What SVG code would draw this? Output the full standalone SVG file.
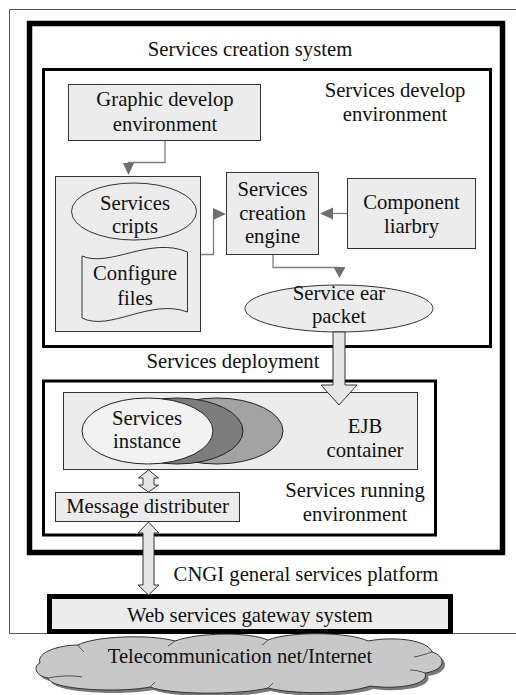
<svg xmlns="http://www.w3.org/2000/svg" width="516" height="695" viewBox="0 0 516 695" font-family="'Liberation Serif', 'Times New Roman', 'DejaVu Serif', serif">
  <style>
    text { font-family: "Liberation Serif", "Times New Roman", Times, "DejaVu Serif", serif; font-size: 20.7px; fill: #111; text-anchor: middle; }
    .box { fill: #ececec; stroke: #333; stroke-width: 1; }
    .frame { fill: none; stroke: #000; }
    .thin { fill: none; stroke: #555; stroke-width: 1; }
    .link { fill: none; stroke: #808080; stroke-width: 1.3; }
    .head { fill: #6e6e6e; stroke: none; }
    .block { fill: #e6e6e6; stroke: #333; stroke-width: 1; stroke-linejoin: miter; }
  </style>

  <rect width="516" height="695" fill="#fff"/>

  <!-- outer thin border -->
  <g id="outer-border">
    <path class="thin" d="M516 9.5 H9.5 V633.5 H516"/>
  </g>

  <!-- Services creation system -->
  <g id="creation-system">
    <rect class="frame" x="29.5" y="23.5" width="473" height="529" stroke-width="5.5"/>
    <text x="250" y="56">Services creation system</text>
  </g>

  <!-- Services develop environment -->
  <g id="develop-environment">
    <rect class="frame" x="43.5" y="69.5" width="447" height="277" stroke-width="3"/>
    <text x="395" y="97">Services develop</text>
    <text x="395" y="121">environment</text>
  </g>

  <g id="graphic-develop">
    <rect class="box" x="68.5" y="84.5" width="192" height="56"/>
    <text x="165" y="106">Graphic develop</text>
    <text x="165" y="131">environment</text>
  </g>

  <g id="scripts-container">
    <rect class="box" x="55.5" y="176.5" width="145" height="155"/>
  </g>

  <g id="services-scripts">
    <ellipse cx="134" cy="211.5" rx="62.5" ry="28.5" fill="#ececec" stroke="#333" stroke-width="1"/>
    <text x="135" y="210">Services</text>
    <text x="135" y="233">cripts</text>
  </g>

  <g id="configure-files">
    <path class="box" d="M82 256 C110 268 150 236 187.5 252 L187.5 312 C150 298 110 332 82 318 Z"/>
    <text x="135" y="280">Configure</text>
    <text x="135" y="305">files</text>
  </g>

  <g id="creation-engine">
    <rect class="box" x="226.5" y="172.5" width="92" height="82"/>
    <text x="272.5" y="196">Services</text>
    <text x="272.5" y="220">creation</text>
    <text x="272.5" y="243">engine</text>
  </g>

  <g id="component-library">
    <rect class="box" x="347.5" y="178.5" width="128" height="70"/>
    <text x="411.5" y="209">Component</text>
    <text x="411.5" y="233">liarbry</text>
  </g>

  <g id="ear-packet">
    <ellipse cx="339" cy="308.5" rx="94" ry="23.5" fill="#ececec" stroke="#333" stroke-width="1"/>
    <text x="339" y="300">Service ear</text>
    <text x="339" y="323">packet</text>
  </g>

  <text id="deployment-label" x="233" y="368">Services deployment</text>

  <!-- Services running environment -->
  <g id="running-environment">
    <rect class="frame" x="43.5" y="381" width="392" height="154" stroke-width="3"/>
    <text x="355" y="497">Services running</text>
    <text x="355" y="521">environment</text>
  </g>

  <g id="ejb-container">
    <rect class="box" x="63.5" y="392.5" width="354" height="77"/>
    <ellipse cx="217" cy="431" rx="66" ry="33" fill="#a3a3a3" stroke="#222" stroke-width="1"/>
    <ellipse cx="177" cy="431" rx="66" ry="33" fill="#7d7d7d" stroke="#222" stroke-width="1"/>
    <text x="365" y="433">EJB</text>
    <text x="365" y="457">container</text>
  </g>

  <g id="services-instance">
    <ellipse cx="147.5" cy="431" rx="65.5" ry="33" fill="#f2f2f2" stroke="#222" stroke-width="1"/>
    <text x="147" y="425">Services</text>
    <text x="147" y="448">instance</text>
  </g>

  <g id="message-distributer">
    <rect class="box" x="55.5" y="492.5" width="184" height="29"/>
    <text x="147.5" y="513">Message distributer</text>
  </g>

  <text id="platform-label" x="306" y="581">CNGI general services platform</text>

  <g id="gateway">
    <rect x="49.5" y="596.5" width="401" height="35" fill="#ececec" stroke="#000" stroke-width="5"/>
    <text x="250" y="622">Web services gateway system</text>
  </g>

  <g id="internet-cloud">
    <path transform="translate(3,3)" fill="#7a7a7a" d="M40 663 C36 652 60 645 78 645 C95 636 150 634 175 641 C200 632 250 632 268 640 C290 631 350 632 368 641 C395 636 428 640 432 652 C446 656 447 670 425 673 C430 684 400 690 370 686 C345 695 290 694 268 688 C240 695 170 695 150 687 C120 693 50 690 48 678 C35 676 33 666 40 663 Z"/>
    <path fill="#c8c8c8" stroke="#333" stroke-width="1" d="M40 663 C36 652 60 645 78 645 C95 636 150 634 175 641 C200 632 250 632 268 640 C290 631 350 632 368 641 C395 636 428 640 432 652 C446 656 447 670 425 673 C430 684 400 690 370 686 C345 695 290 694 268 688 C240 695 170 695 150 687 C120 693 50 690 48 678 C35 676 33 666 40 663 Z"/>
    <path fill="none" stroke="#333" stroke-width="0.8" d="M48 678 C58 676 72 675 82 677 M78 645 C80 648 82 650 84 652 M175 641 C172 643 170 645 168 646 M268 640 C266 642 264 644 262 645 M425 673 C420 671 414 670 410 670 M432 652 C426 654 420 656 414 657 M150 687 C152 685 154 683 155 682 M268 688 C270 686 272 684 273 683"/>
    <text x="240" y="663">Telecommunication net/Internet</text>
  </g>

  <!-- connectors -->
  <g id="connectors">
    <path class="link" d="M165 141 V162.5 H128.5 V164"/>
    <polygon class="head" points="123,163 134,163 128.5,175"/>

    <path class="link" d="M201 254.5 H213.5 V214"/>
    <polygon class="head" points="213,208 213,220 226,214"/>

    <path class="link" d="M347 213.5 H332"/>
    <polygon class="head" points="333,207.5 333,219.5 320,213.5"/>

    <path class="link" d="M273 255 V267.5 H339.5"/>
    <polygon class="head" points="333.5,267 345.5,267 339.5,278"/>

    <polygon class="block" points="333,332 345,332 345,385 357,385 339,405 321,385 333,385"/>

    <polygon class="block" points="148.5,470 158.5,478 154,478 154,485 158.5,485 148.5,492 138.5,485 143,485 143,478 138.5,478"/>

    <polygon class="block" points="148.5,522 159,533 154,533 154,585 159,585 148.5,595 138,585 143,585 143,533 138,533"/>
  </g>
</svg>
